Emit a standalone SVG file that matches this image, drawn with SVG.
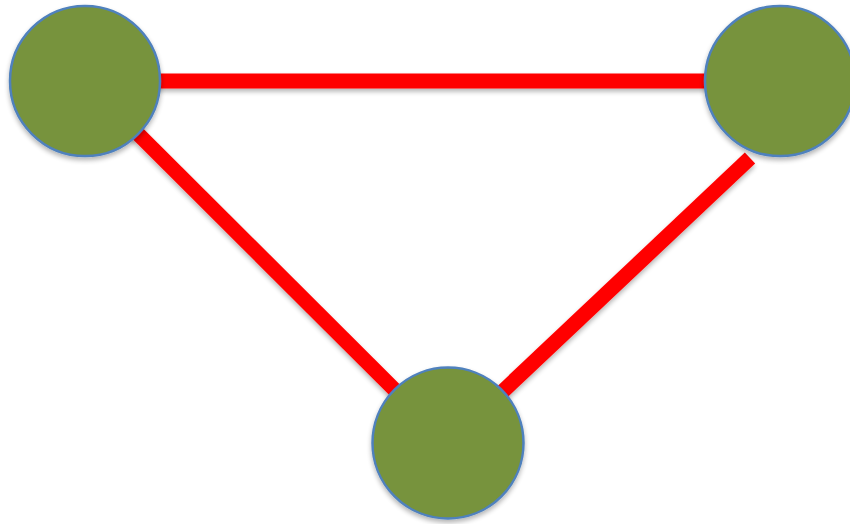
<svg xmlns="http://www.w3.org/2000/svg" width="850" height="524" viewBox="0 0 850 524">
<defs>
<filter id="sh" x="-20%" y="-20%" width="140%" height="140%">
<feGaussianBlur in="SourceAlpha" stdDeviation="2.5"/>
<feOffset dx="0" dy="3" result="b"/>
<feComponentTransfer><feFuncA type="linear" slope="0.3"/></feComponentTransfer>
<feMerge><feMergeNode/><feMergeNode in="SourceGraphic"/></feMerge>
</filter>
<style>
.edge{stroke:#FF0000;stroke-width:15;stroke-linecap:butt;fill:none}
.node{fill:#77933C;stroke:#4F81BD;stroke-width:2.5}
</style>
</defs>
<rect width="850" height="524" fill="#FFFFFF"/>
<g id="connectors" filter="url(#sh)">
<line class="edge" x1="85" y1="81" x2="780" y2="81"/>
<line class="edge" x1="85" y1="81" x2="448" y2="443"/>
<line class="edge" x1="750" y1="158" x2="448" y2="443"/>
</g>
<g id="node-left" filter="url(#sh)"><circle class="node" cx="85" cy="81" r="75"/></g>
<g id="node-right" filter="url(#sh)"><circle class="node" cx="780" cy="81" r="75"/></g>
<g id="node-bottom" filter="url(#sh)"><circle class="node" cx="448" cy="443" r="75.5"/></g>
</svg>
